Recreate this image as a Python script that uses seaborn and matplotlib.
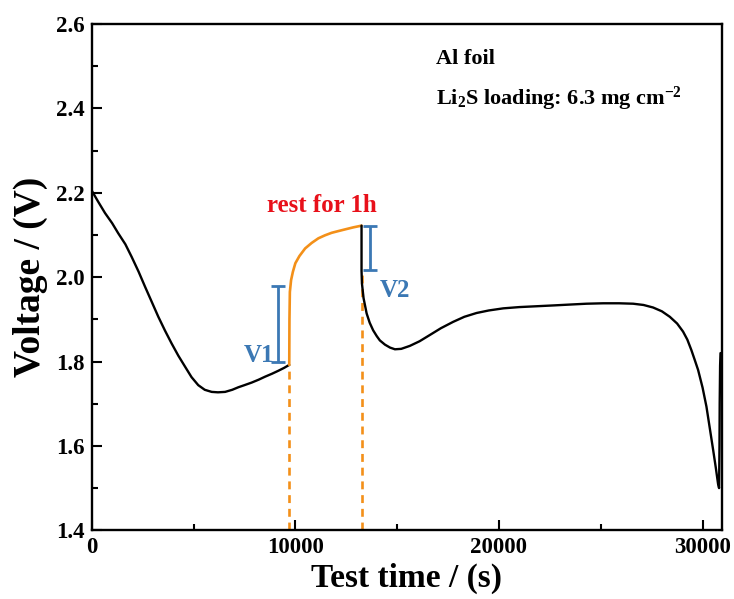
import numpy as np
import pandas as pd
import matplotlib
matplotlib.use("Agg")
import matplotlib.pyplot as plt
from matplotlib.ticker import MultipleLocator
import seaborn as sns

# ---------------- data ----------------
t_dis1 = [0, 300, 650, 1000, 1300, 1650, 1960, 2300, 2620, 2950, 3270, 3600,
          3920, 4250, 4580, 4900, 5230, 5550, 5890, 6200, 6550, 6900, 7200,
          7500, 7850, 8200, 8510, 8850, 9160, 9450, 9700]
v_dis1 = [2.205, 2.180, 2.152, 2.128, 2.104, 2.078, 2.048, 2.013, 1.977,
          1.941, 1.906, 1.873, 1.843, 1.814, 1.788, 1.763, 1.744, 1.733,
          1.728, 1.727, 1.728, 1.733, 1.739, 1.744, 1.750, 1.757, 1.764,
          1.771, 1.778, 1.785, 1.792]

t_rest = [9700, 9710, 9730, 9790, 9880, 10000, 10200, 10480, 10800, 11130,
          11450, 11780, 12100, 12430, 12850, 13250]
v_rest = [1.792, 1.900, 1.965, 1.993, 2.013, 2.033, 2.050, 2.068, 2.081,
          2.092, 2.099, 2.105, 2.109, 2.113, 2.118, 2.122]

t_dis2 = [13250, 13250, 13270, 13350, 13500, 13650, 13820, 14000, 14150,
          14400, 14650, 14890, 15200, 15620, 16100, 16610, 17150, 17750,
          18300, 18900, 19500, 20210, 21000, 21850, 22700, 23490, 24300,
          25120, 25900, 26590, 27100, 27570, 28000, 28390, 28750, 29040,
          29250, 29450, 29620, 29780, 30000, 30190, 30360, 30520, 30650,
          30760, 30810, 30830, 30840, 30860, 30880]
v_dis2 = [2.122, 2.015, 1.985, 1.950, 1.914, 1.892, 1.874, 1.860, 1.850,
          1.840, 1.833, 1.829, 1.830, 1.837, 1.848, 1.863, 1.879, 1.894,
          1.906, 1.915, 1.921, 1.926, 1.929, 1.931, 1.933, 1.935, 1.937,
          1.938, 1.938, 1.937, 1.934, 1.928, 1.919, 1.906, 1.890, 1.871,
          1.852, 1.827, 1.803, 1.780, 1.738, 1.693, 1.640, 1.590, 1.548,
          1.510, 1.500, 1.600, 1.700, 1.790, 1.820]

rest_marks_t = [9700, 13250]          # orange dashed guide lines
rest_marks_v = [1.792, 2.015]

bracket_t = [9160, 13680]             # V1, V2 brackets
bracket_lo = [1.800, 2.017]
bracket_hi = [1.979, 2.120]
bracket_labels = ["V1", "V2"]

x_ticks = [0, 10000, 20000, 30000]
y_ticks = [1.4, 1.6, 1.8, 2.0, 2.2, 2.4, 2.6]

# ---------------- style ----------------
sns.set_theme(style="ticks")
plt.rcParams["font.family"] = ["Liberation Serif", "DejaVu Serif"]
plt.rcParams["font.weight"] = "bold"
plt.rcParams["text.color"] = "black"
plt.rcParams["axes.labelcolor"] = "black"
plt.rcParams["xtick.color"] = "black"
plt.rcParams["ytick.color"] = "black"
plt.rcParams["mathtext.fontset"] = "custom"
plt.rcParams["mathtext.rm"] = "Liberation Serif:bold"
plt.rcParams["mathtext.it"] = "Liberation Serif:bold"
plt.rcParams["mathtext.bf"] = "Liberation Serif:bold"

BLUE = "#3B78B4"
ORANGE = "#F39019"
RED = "#E8101A"

fig = plt.figure(figsize=(7.34, 5.99), dpi=100)
ax = fig.add_axes([0.125, 0.1147, 0.858, 0.8453])

d1 = pd.DataFrame({"t": t_dis1, "v": v_dis1})
dr = pd.DataFrame({"t": t_rest, "v": v_rest})
d2 = pd.DataFrame({"t": t_dis2, "v": v_dis2})

sns.lineplot(data=d1, x="t", y="v", sort=False, estimator=None,
             color="black", lw=1.7, ax=ax)
sns.lineplot(data=dr, x="t", y="v", sort=False, estimator=None,
             color=ORANGE, lw=1.9, ax=ax)
sns.lineplot(data=d2, x="t", y="v", sort=False, estimator=None,
             color="black", lw=1.7, ax=ax)

# orange dashed guides down to the axis
for tm, vm in zip(rest_marks_t, rest_marks_v):
    ax.plot([tm, tm], [1.4, vm], color=ORANGE, lw=1.9, ls=(0, (3, 2.2)),
            zorder=1)

# V1 / V2 brackets
for tb, lo, hi in zip(bracket_t, bracket_lo, bracket_hi):
    mid = (lo + hi) / 2
    ax.errorbar([tb], [mid], yerr=[[mid - lo], [hi - mid]], fmt="none",
                ecolor=BLUE, elinewidth=2, capsize=5, capthick=2)

ax.text(bracket_t[0] - 180, 1.815, bracket_labels[0], color=BLUE,
        fontsize=18, fontweight="bold", ha="right", va="center")
ax.text(14120, 1.968, bracket_labels[1], color=BLUE,
        fontsize=18, fontweight="bold", ha="left", va="center")

ax.text(11300, 2.17, "rest for 1h", color=RED, fontsize=18,
        fontweight="bold", ha="center", va="center")
ax.text(16900, 2.517, "Al foil", color="black", fontsize=16,
        fontweight="bold", ha="left", va="center")
ax.text(16900, 2.422, r"Li$_{2}$S loading: 6.3 mg cm$^{-2}$", color="black",
        fontsize=16, fontweight="bold", ha="left", va="center")

# axes
ax.set_xlim(0, 30930)
ax.set_ylim(1.4, 2.6)
ax.set_xticks(x_ticks)
ax.set_yticks(y_ticks)
ax.set_yticklabels([f"{v:.1f}" for v in y_ticks])
ax.xaxis.set_minor_locator(MultipleLocator(5000))
ax.yaxis.set_minor_locator(MultipleLocator(0.1))
ax.tick_params(axis="both", which="major", direction="in", length=7,
               width=1.5, labelsize=16.5, top=False, right=False)
ax.tick_params(axis="both", which="minor", direction="in", length=4,
               width=1.5, top=False, right=False)
ax.tick_params(axis="x", pad=5)
ax.tick_params(axis="y", pad=5)
for lab in ax.get_xticklabels() + ax.get_yticklabels():
    lab.set_fontweight("bold")
for sp in ax.spines.values():
    sp.set_visible(True)
    sp.set_linewidth(1.7)
    sp.set_color("black")

ax.set_xlabel("Test time / (s)", fontsize=24, fontweight="bold", labelpad=3)
ax.set_ylabel("Voltage / (V)", fontsize=27, fontweight="bold", labelpad=6)

fig.savefig("out.png", dpi=100)
